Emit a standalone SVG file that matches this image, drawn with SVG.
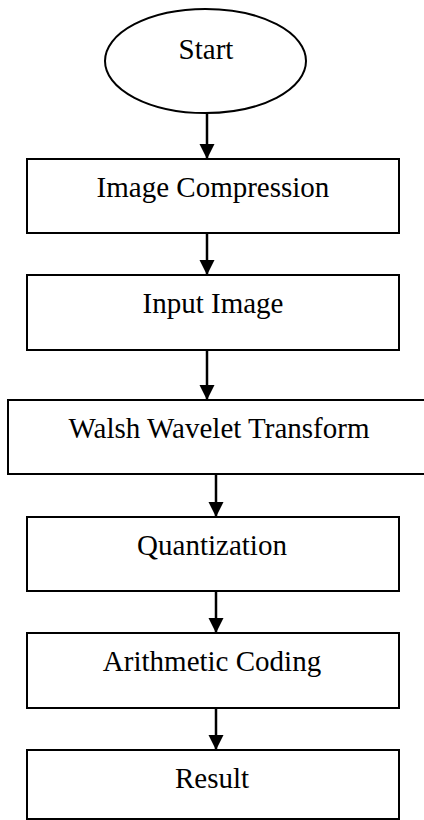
<svg xmlns="http://www.w3.org/2000/svg" width="424" height="820" viewBox="0 0 424 820">
  <style>
    .shape { fill: #ffffff; stroke: #000000; stroke-width: 2; }
    .label { font-family: "Liberation Serif", "Times New Roman", serif; font-size: 29px; fill: #000000; text-anchor: middle; }
    .flow { stroke: #000000; stroke-width: 2.5; fill: none; marker-end: url(#arrowhead); }
  </style>
  <defs>
    <marker id="arrowhead" markerUnits="userSpaceOnUse" markerWidth="16" markerHeight="16" viewBox="0 0 16 16" refX="15" refY="8" orient="auto">
      <path d="M0,0.5 L15,8 L0,15.5 Z" fill="#000000"/>
    </marker>
  </defs>
  <rect width="424" height="820" fill="#ffffff"/>

  <g id="start">
    <ellipse class="shape" cx="205.5" cy="61" rx="100.5" ry="52"/>
    <text class="label" x="206" y="59">Start</text>
  </g>

  <g id="image-compression">
    <rect class="shape" x="27" y="159" width="372" height="74"/>
    <text class="label" x="213" y="197">Image Compression</text>
  </g>

  <g id="input-image">
    <rect class="shape" x="27" y="275" width="372" height="75"/>
    <text class="label" x="213" y="313">Input Image</text>
  </g>

  <g id="walsh-wavelet-transform">
    <rect class="shape" x="8" y="400" width="420" height="74"/>
    <text class="label" x="219" y="438">Walsh Wavelet Transform</text>
  </g>

  <g id="quantization">
    <rect class="shape" x="27" y="517" width="372" height="74"/>
    <text class="label" x="212" y="555">Quantization</text>
  </g>

  <g id="arithmetic-coding">
    <rect class="shape" x="27" y="633" width="372" height="75"/>
    <text class="label" x="212" y="671">Arithmetic Coding</text>
  </g>

  <g id="result">
    <rect class="shape" x="27" y="750" width="372" height="69"/>
    <text class="label" x="212" y="788">Result</text>
  </g>

  <g id="connectors">
    <line class="flow" x1="207" y1="113" x2="207" y2="159"/>
    <line class="flow" x1="207" y1="233" x2="207" y2="275"/>
    <line class="flow" x1="207" y1="350" x2="207" y2="400"/>
    <line class="flow" x1="216" y1="474" x2="216" y2="517"/>
    <line class="flow" x1="216" y1="591" x2="216" y2="633"/>
    <line class="flow" x1="216" y1="708" x2="216" y2="750"/>
  </g>
</svg>
